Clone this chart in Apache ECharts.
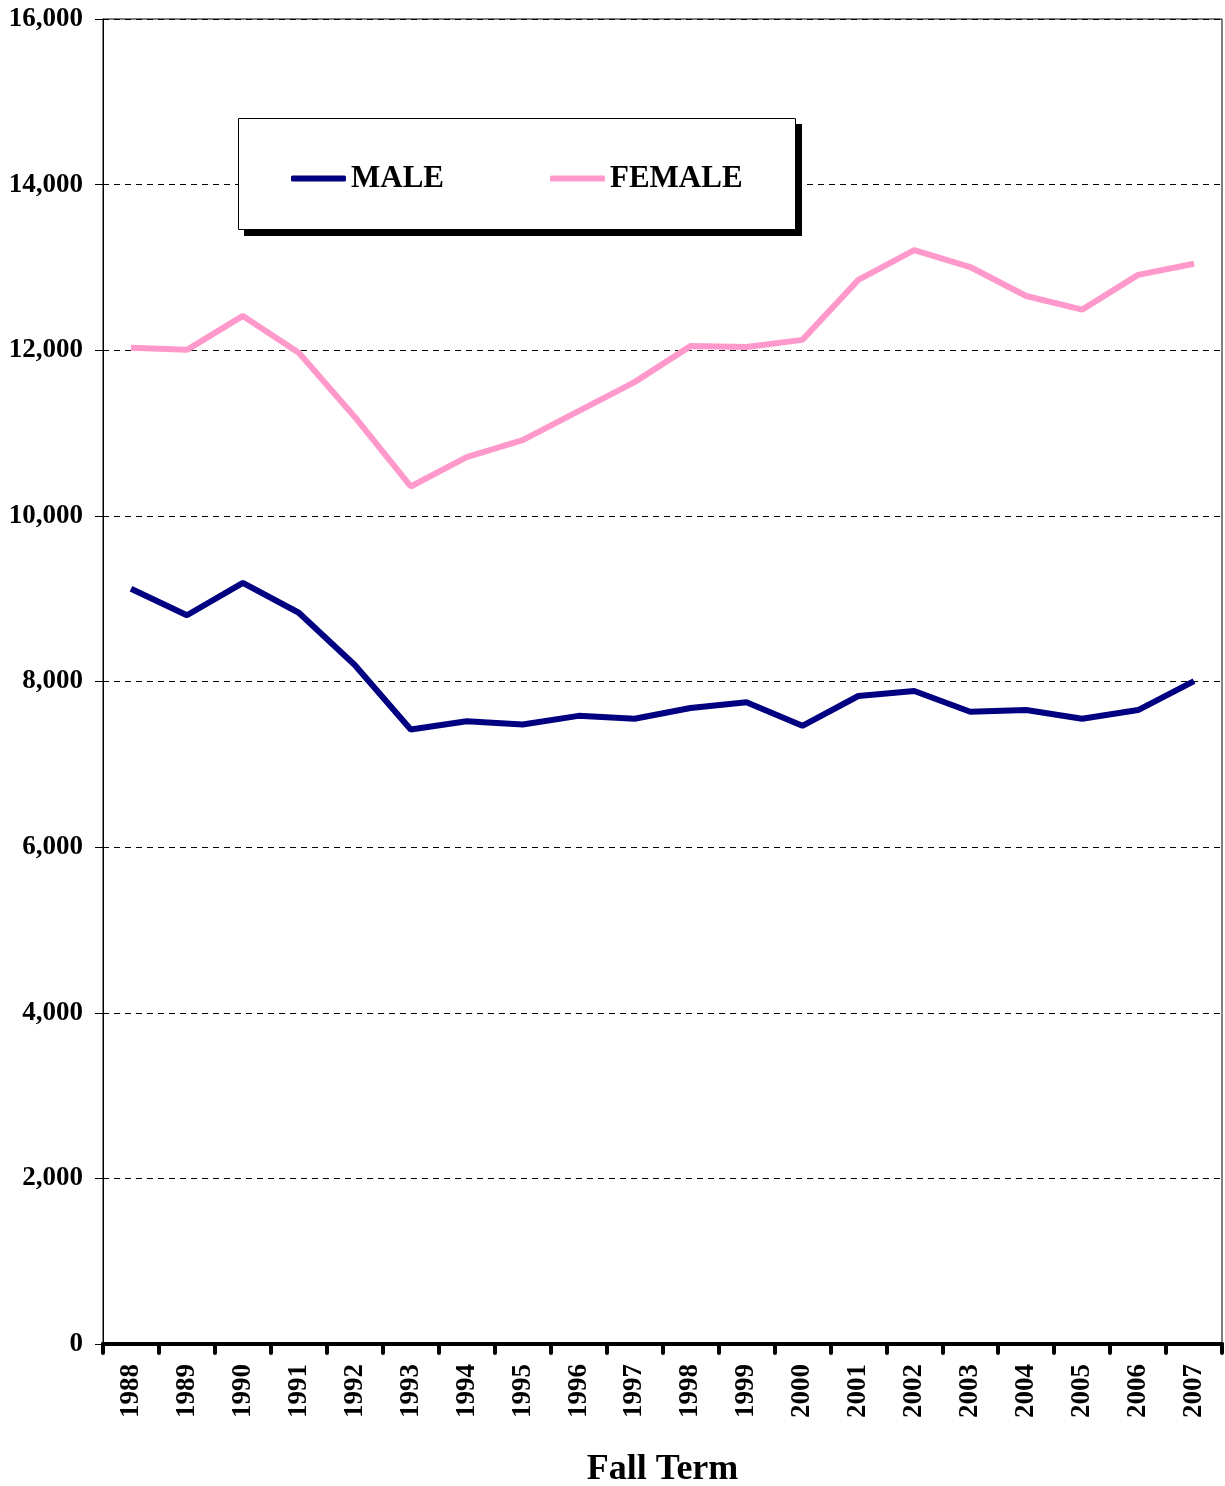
<!DOCTYPE html>
<html>
<head>
<meta charset="utf-8">
<script src="https://cdn.jsdelivr.net/npm/echarts@6/dist/echarts.min.js"></script>
<style>
  html, body { margin: 0; padding: 0; background: #fff; }
  #chart { width: 1225px; height: 1486px; }
</style>
</head>
<body>
<div id="chart"></div>
<script>
// Dados
const anos = ["1988", "1989", "1990", "1991", "1992", "1993", "1994", "1995", "1996", "1997",
  "1998", "1999", "2000", "2001", "2002", "2003", "2004", "2005", "2006", "2007"];
const masculino = [9120, 8800, 9190, 8830, 8200, 7420, 7520, 7480, 7585, 7550,
  7680, 7750, 7465, 7825, 7885, 7635, 7655, 7550, 7655, 8005];
const feminino = [12030, 12005, 12415, 11970, 11195, 10355, 10710, 10915, 11265, 11615,
  12050, 12040, 12125, 12850, 13210, 13005, 12655, 12490, 12910, 13045];

const fonte = "'Liberation Serif', 'Times New Roman', serif";

const chart = echarts.init(document.getElementById("chart"));
chart.setOption({
  animation: false,
  grid: {
    left: 103, right: 3, top: 19, bottom: 142,
    outerBoundsMode: "none", containLabel: false,
    show: true, borderColor: "#000", borderWidth: 1
  },
  graphic: [
    { type: "rect", z: 1, shape: { x: 244, y: 124, width: 558, height: 112 }, style: { fill: "#000" } },
    { type: "rect", z: 2, shape: { x: 238.5, y: 118.5, width: 557, height: 111 }, style: { fill: "#fff", stroke: "#000", lineWidth: 1 } }
  ],
  legend: {
    z: 10,
    left: 286,
    top: 158,
    itemGap: 106,
    itemWidth: 55,
    itemHeight: 6,
    icon: "roundRect",
    textStyle: { fontFamily: fonte, fontWeight: "bold", fontSize: 31, color: "#000" },
    data: ["MALE", "FEMALE"]
  },
  xAxis: {
    type: "category",
    data: anos,
    name: "Fall Term",
    nameLocation: "middle",
    nameGap: 108,
    nameTextStyle: { fontFamily: fonte, fontWeight: "bold", fontSize: 36, color: "#000" },
    axisLine: { lineStyle: { color: "#000", width: 4 } },
    axisTick: { show: true, length: 9, lineStyle: { color: "#000", width: 4, cap: "round" } },
    axisLabel: { rotate: 90, margin: 20, fontFamily: fonte, fontWeight: "bold", fontSize: 27, color: "#000" }
  },
  yAxis: {
    type: "value",
    min: 0,
    max: 16000,
    interval: 2000,
    axisLine: { show: true, lineStyle: { color: "#000", width: 1 } },
    axisTick: { show: true, length: 8, lineStyle: { color: "#000" } },
    axisLabel: {
      margin: 20,
      fontFamily: fonte, fontWeight: "bold", fontSize: 27, color: "#000",
      formatter: v => v.toLocaleString("en-US")
    },
    splitLine: { show: true, lineStyle: { color: "#000", type: [6, 5], width: 1 } }
  },
  series: [
    {
      name: "MALE", type: "line", data: masculino, symbol: "none", z: 5,
      lineStyle: { color: "#000080", width: 6 }, itemStyle: { color: "#000080" }
    },
    {
      name: "FEMALE", type: "line", data: feminino, symbol: "none", z: 5,
      lineStyle: { color: "#ff99cc", width: 6 }, itemStyle: { color: "#ff99cc" }
    }
  ]
});
</script>
</body>
</html>
